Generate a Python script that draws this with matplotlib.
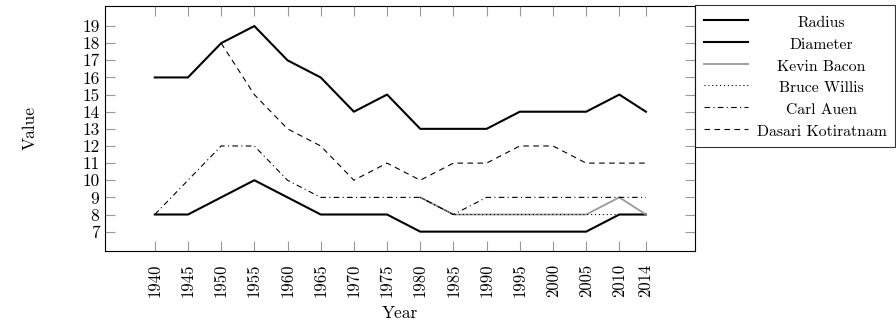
import matplotlib
matplotlib.use("Agg")
import matplotlib.pyplot as plt
import numpy as np

nan = np.nan

years = [1940, 1945, 1950, 1955, 1960, 1965, 1970, 1975, 1980, 1985, 1990, 1995, 2000, 2005, 2010, 2014]
radius = [16, 16, 18, 19, 17, 16, 14, 15, 13, 13, 13, 14, 14, 14, 15, 14]
diameter = [8, 8, 9, 10, 9, 8, 8, 8, 7, 7, 7, 7, 7, 7, 8, 8]
kevin_bacon = [nan, nan, nan, nan, nan, nan, nan, nan, 9, 8, 8, 8, 8, 8, 9, 8]
bruce_willis = [nan, nan, nan, nan, nan, nan, nan, nan, 9, 8, 8, 8, 8, 8, 8, 8]
carl_auen = [8, 10, 12, 12, 10, 9, 9, 9, 9, 8, 9, 9, 9, 9, 9, 9]
dasari = [nan, nan, 18, 15, 13, 12, 10, 11, 10, 11, 11, 12, 12, 11, 11, 11]
y_ticks = list(range(7, 20))

plt.rcParams['font.family'] = 'cmr10'
plt.rcParams['mathtext.fontset'] = 'cm'
plt.rcParams['axes.unicode_minus'] = False

fig = plt.figure(figsize=(8.96, 3.23), dpi=100)
ax = fig.add_axes([105 / 896, 72 / 323, 590 / 896, 245 / 323])

ax.plot(years, radius, color='black', lw=1.5, label='Radius')
ax.plot(years, diameter, color='black', lw=1.5, label='Diameter')
ax.plot(years, kevin_bacon, color='#999999', lw=1.3, label='Kevin Bacon')
ax.plot(years, bruce_willis, color='black', lw=0.8, linestyle=(0, (1, 2.5)), label='Bruce Willis')
ax.plot(years, carl_auen, color='black', lw=0.8, linestyle=(0, (5, 3, 1, 3)), label='Carl Auen')
ax.plot(years, dasari, color='black', lw=0.8, linestyle=(0, (5, 4)), label='Dasari Kotiratnam')

ax.set_xlim(1932.5, 2021.4)
ax.set_ylim(5.87, 20.17)
ax.set_xticks(years)
ax.set_xticklabels([str(y) for y in years], rotation=90, fontsize=12)
ax.set_yticks(y_ticks)
ax.set_yticklabels([str(v) for v in y_ticks], fontsize=12.5)
ax.tick_params(direction='in', length=7, width=0.8, color='#999999',
               top=True, right=True, pad=4)
ax.tick_params(axis='x', pad=9)
for sp in ax.spines.values():
    sp.set_linewidth(0.8)

ax.set_xlabel('Year', fontsize=12.5, labelpad=6.5)
ax.set_ylabel('Value', fontsize=12.5, labelpad=32)

leg = ax.legend(loc='upper left', bbox_to_anchor=(695 / 896, 1 - 5 / 323, 200 / 896, 0.0),
                bbox_transform=fig.transFigure, mode='expand', fontsize=11.3,
                handlelength=2.8, handletextpad=0.5, labelspacing=0.5,
                borderaxespad=0, frameon=True, fancybox=False, borderpad=0.6)
leg.get_frame().set_edgecolor('black')
leg.get_frame().set_linewidth(0.8)

# center labels between the handle and the right edge, as in the original
fig.canvas.draw()
box = leg.get_window_extent()
inv = fig.transFigure.inverted()
for t, h in zip(leg.get_texts(), leg.legend_handles):
    tb = t.get_window_extent()
    hb = h.get_window_extent()
    cx = (hb.x1 + box.x1) / 2
    cy = tb.y0 + tb.height / 2 - 1.5
    fx, fy = inv.transform((cx, cy))
    fig.text(fx, fy, t.get_text(), fontsize=11.3, ha='center', va='center')
    t.set_visible(False)

fig.savefig('out.png', dpi=100)
